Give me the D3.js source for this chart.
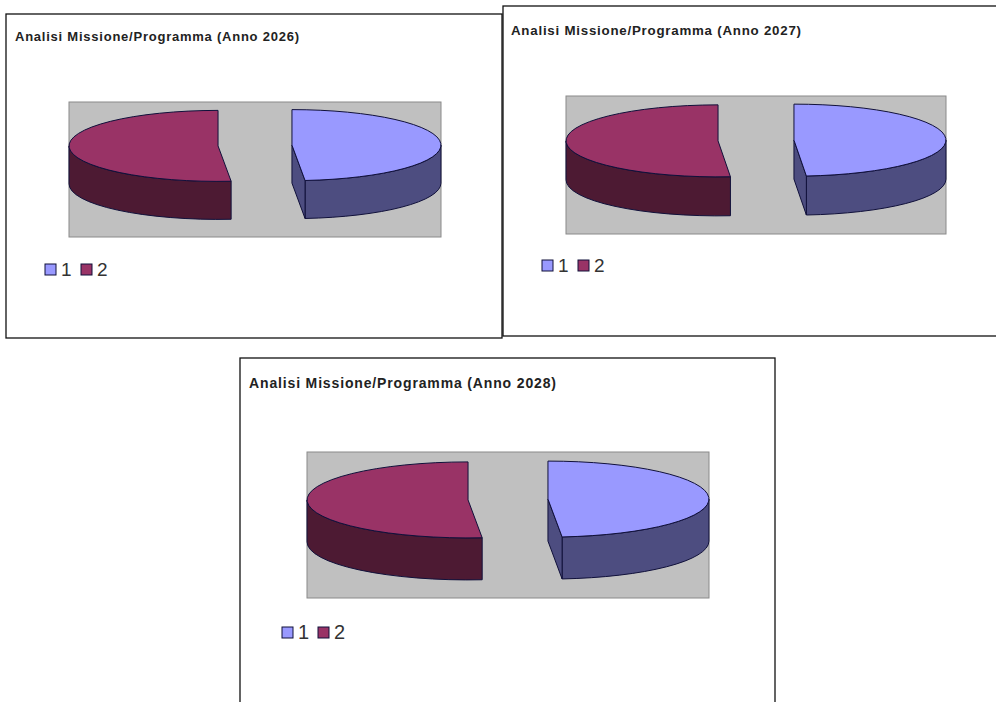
<!DOCTYPE html>
<html>
<head>
<meta charset="utf-8">
<script src="https://d3js.org/d3.v7.min.js"></script>
<style>
html, body { margin: 0; background: #fff; }
svg { display: block; }
</style>
</head>
<body>
<div id="chart"></div>
<script>
// values
const categories = ["1", "2"]
const years = [2026, 2027, 2028]
const values1 = [48.6, 48.7, 48.6]
const values2 = [51.4, 51.3, 51.4]
const topColors = ["#9999ff", "#993366"]
const sideColors = ["#4d4d80", "#4d1a33"]

// where each of the three pasted charts sits on the page
const panels = [
    {frame: [6, 14, 496, 324], plot: [69, 102, 372, 135], cy: 145.5, ry: 35.5, depth: 38, explode: 37,
        titleX: 15, titleY: 41, titleSize: 13, titleWidth: 284, legendX: 45, legendY: 264, legendSize: 19},
    {frame: [503, 6, 500, 330], plot: [566, 96, 380, 138], cy: 140.5, ry: 36, depth: 39, explode: 38,
        titleX: 511, titleY: 35, titleSize: 13.3, titleWidth: 290, legendX: 542, legendY: 260, legendSize: 19},
    {frame: [240, 358, 535, 360], plot: [307, 452, 402, 146], cy: 499.5, ry: 38, depth: 42, explode: 40,
        titleX: 249, titleY: 388, titleSize: 14, titleWidth: 307, legendX: 282, legendY: 627, legendSize: 20}
]

const width = 996
const height = 702

const svg = d3.select("#chart")
    .append("svg")
    .attr("width", width)
    .attr("height", height)
    .attr("viewBox", [0, 0, width, height])

const pie = d3.pie().sort(null).startAngle(0).endAngle(2 * Math.PI)
const topColor = d3.scaleOrdinal(categories, topColors)
const sideColor = d3.scaleOrdinal(categories, sideColors)
const outline = "#10103a"

function drawPanel(p, i) {
    const [fx, fy, fw, fh] = p.frame
    const [px, py, pw, ph] = p.plot
    const g = svg.append("g")

    g.append("rect")
        .attr("x", fx).attr("y", fy).attr("width", fw).attr("height", fh)
        .attr("fill", "#fff").attr("stroke", "#111").attr("stroke-width", 1.3)

    g.append("text")
        .attr("x", p.titleX).attr("y", p.titleY)
        .attr("font-family", "Liberation Sans, Arial, sans-serif")
        .attr("font-weight", "bold")
        .attr("font-size", p.titleSize)
        .attr("textLength", p.titleWidth)
        .attr("lengthAdjust", "spacing")
        .attr("fill", "#222")
        .text(`Analisi Missione/Programma (Anno ${years[i]})`)

    g.append("rect")
        .attr("x", px).attr("y", py).attr("width", pw).attr("height", ph)
        .attr("fill", "#c0c0c0").attr("stroke", "#8a8a8a").attr("stroke-width", 1)

    const rx = pw / 2 - p.explode
    const arcs = pie([values1[i], values2[i]])

    arcs.forEach((a, k) => {
        const mid = (a.startAngle + a.endAngle) / 2
        const cx = px + pw / 2 + p.explode * Math.sin(mid)
        const cy = p.cy - p.explode * Math.cos(mid) * p.ry / rx
        const pt = (t, dy = 0) => [cx + rx * Math.sin(t), cy - p.ry * Math.cos(t) + dy]
        const ell = (to, sweep, large = 0) => `A${rx},${p.ry} 0 ${large} ${sweep} ${to[0]},${to[1]}`
        const slice = g.append("g").attr("stroke", outline).attr("stroke-width", 1).attr("stroke-linejoin", "round")

        // outer wall, only the front half of the ellipse shows
        const w0 = Math.max(a.startAngle, Math.PI / 2)
        const w1 = Math.min(a.endAngle, 3 * Math.PI / 2)
        if (w1 > w0) {
            slice.append("path")
                .attr("fill", sideColor(categories[k]))
                .attr("d", `M${pt(w0)} ${ell(pt(w1), 1)} L${pt(w1, p.depth)} ${ell(pt(w0, p.depth), 0)} Z`)
        }

        // cut face, seen only on the slice that ends in the front right
        if (a.endAngle < Math.PI) {
            slice.append("path")
                .attr("fill", sideColor(categories[k]))
                .attr("d", `M${cx},${cy} L${pt(a.endAngle)} L${pt(a.endAngle, p.depth)} L${cx},${cy + p.depth} Z`)
        }

        const large = a.endAngle - a.startAngle > Math.PI ? 1 : 0
        slice.append("path")
            .attr("fill", topColor(categories[k]))
            .attr("d", `M${cx},${cy} L${pt(a.startAngle)} ${ell(pt(a.endAngle), 1, large)} Z`)
    })

    // legend
    const legendX = d3.scaleBand(categories, [p.legendX, p.legendX + 72])
    const item = g.append("g")
        .selectAll("g")
        .data(categories)
        .join("g")
        .attr("transform", d => `translate(${legendX(d)},${p.legendY})`)
    item.append("rect")
        .attr("width", 11).attr("height", 11)
        .attr("fill", d => topColor(d))
        .attr("stroke", outline).attr("stroke-width", 1)
    item.append("text")
        .attr("x", 16).attr("y", 12)
        .attr("font-family", "Liberation Sans, Arial, sans-serif")
        .attr("font-size", p.legendSize)
        .attr("fill", "#333")
        .text(d => d)
}

panels.forEach(drawPanel)
</script>
</body>
</html>
